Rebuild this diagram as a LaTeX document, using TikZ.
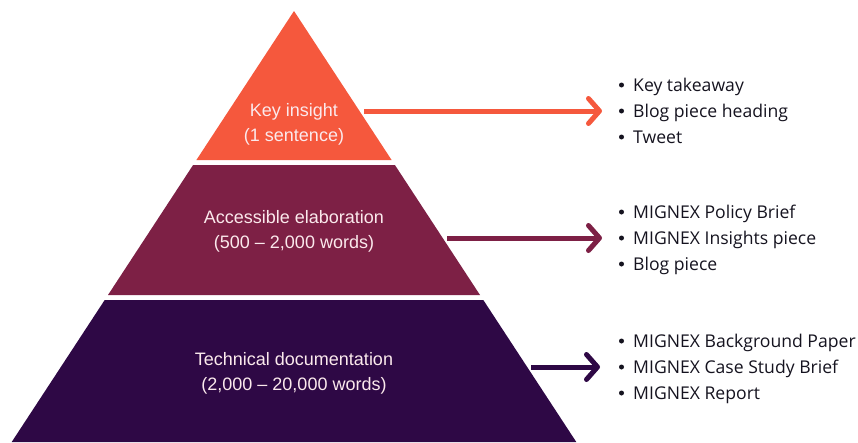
\documentclass[tikz,border=0pt]{standalone}
\usepackage{fontspec}
\setmainfont{Liberation Sans}
\newfontfamily\listfont{Open Sans}
\usetikzlibrary{arrows.meta}
\definecolor{tier1}{HTML}{F5583D}
\definecolor{tier2}{HTML}{7D2045}
\definecolor{tier3}{HTML}{2E0845}
\definecolor{tiertext}{HTML}{FBE9EC}
\definecolor{listtext}{HTML}{15131F}
\tikzset{
  tierlabel/.style={text=tiertext, font=\fontsize{18}{25.5}\selectfont, align=center},
  listline/.style={anchor=base west, text=listtext, font=\listfont\fontsize{17.6}{20}\selectfont, inner sep=0pt},
  bulletdot/.style={circle, fill=listtext, inner sep=0pt, minimum size=5pt},
  outarrow/.style={line width=5pt, -{Straight Barb[length=11pt, width=25pt, line cap=round, line join=round]}}
}

\begin{document}
\begin{tikzpicture}[x=1pt, y=-1pt]
\useasboundingbox (0,0) rectangle (858,442);
\fill[tier1] (294,11) -- (391.6,160) -- (196.4,160) -- cycle;
\fill[tier2] (193.1,165) -- (394.9,165) -- (480,295) -- (108,295) -- cycle;
\fill[tier3] (104.7,300) -- (483.3,300) -- (576.3,442) -- (11.7,442) -- cycle;

\node[tierlabel] (insight) at (294,124.5) {Key insight\\(1 sentence)};
\node[tierlabel] (elab) at (294,231.5) {Accessible elaboration\\(500 -- 2,000 words)};
\node[tierlabel] (techdoc) at (294,373.5) {Technical documentation\\(2,000 -- 20,000 words)};

\coordinate (insightR) at (364,111);
\coordinate (elabR) at (447,238);
\coordinate (techdocR) at (531,367);
\coordinate (insightL) at (602,111);
\coordinate (elabL) at (602,238);
\coordinate (techdocL) at (600,367);

\draw[outarrow, tier1] (insightR) -- (insightL);
\draw[outarrow, tier2] (elabR) -- (elabL);
\draw[outarrow, tier3] (techdocR) -- (techdocL);

\foreach \y/\name/\txt in {85/k1/Key takeaway, 111/k2/Blog piece heading, 137/k3/Tweet,
  212/e1/MIGNEX Policy Brief, 238/e2/MIGNEX Insights piece, 264/e3/Blog piece,
  341/t1/MIGNEX Background Paper, 367/t2/MIGNEX Case Study Brief, 393/t3/MIGNEX Report} {
  \node[bulletdot] (dot\name) at (621.5,\y) {};
  \node[listline] (\name) at (633,\y+6.5) {\txt};
}
\end{tikzpicture}
\end{document}
